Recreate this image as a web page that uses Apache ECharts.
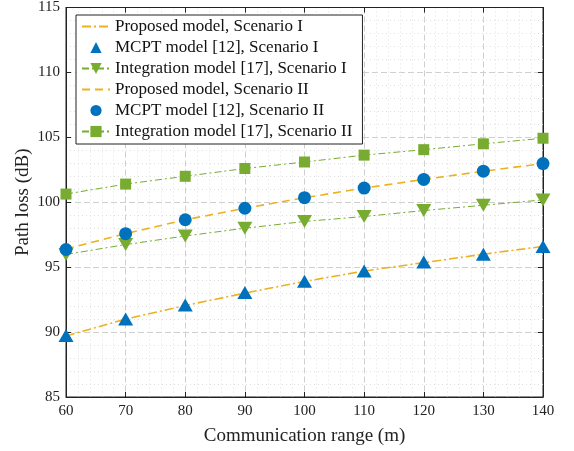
<!DOCTYPE html>
<html>
<head>
<meta charset="utf-8">
<script src="https://cdn.jsdelivr.net/npm/echarts@6/dist/echarts.min.js"></script>
<style>html,body{margin:0;padding:0;background:#fff}#c{width:574px;height:451px}</style>
</head>
<body>
<div id="c"></div>
<script>
const ranges = [60, 70, 80, 90, 100, 110, 120, 130, 140];
const proposedI = [89.7, 91.0, 92.05, 93.0, 93.9, 94.7, 95.35, 96.0, 96.6];
const mcptI = [89.74, 91.0, 92.08, 93.05, 93.92, 94.7, 95.39, 96.0, 96.6];
const integrationI = [95.98, 96.74, 97.4, 98.0, 98.52, 98.9, 99.36, 99.77, 100.18];
const proposedII = [96.4, 97.58, 98.65, 99.54, 100.35, 101.09, 101.76, 102.39, 102.98];
const mcptII = [96.36, 97.58, 98.65, 99.54, 100.35, 101.09, 101.76, 102.39, 102.98];
const integrationII = [100.63, 101.4, 102.0, 102.6, 103.1, 103.63, 104.05, 104.5, 104.93];
const names = [
  'Proposed model, Scenario I',
  'MCPT model [12], Scenario I',
  'Integration model [17], Scenario I',
  'Proposed model, Scenario II',
  'MCPT model [12], Scenario II',
  'Integration model [17], Scenario II'
];

const BLUE = '#0072BD', ORANGE = '#EDB120', GREEN = '#77AC30';
const FONT = 'Liberation Serif';
const pts = arr => ranges.map((x, i) => [x, arr[i]]);
const dashDot = [7, 3, 2, 3];

const chart = echarts.init(document.getElementById('c'), null, {renderer: 'canvas'});
chart.setOption({
  animation: false,
  backgroundColor: '#fff',
  grid: {left: 66, right: 31, top: 6, bottom: 52, show: true, borderColor: '#222', borderWidth: 1, backgroundColor: 'transparent'},
  legend: {
    orient: 'vertical', left: 76, top: 15,
    padding: [3, 10, 4, 5],
    itemWidth: 28, itemHeight: 14, itemGap: 4,
    borderColor: '#222', borderWidth: 1, backgroundColor: '#fff',
    textStyle: {fontFamily: FONT, fontSize: 17, color: '#111'},
    data: [
      {name: names[0], itemStyle: {opacity: 0}},
      {name: names[1]},
      {name: names[2]},
      {name: names[3], itemStyle: {opacity: 0}},
      {name: names[4]},
      {name: names[5]}
    ]
  },
  xAxis: [{
    type: 'value', min: 60, max: 140, interval: 10,
    name: 'Communication range (m)', nameLocation: 'middle', nameGap: 30, nameMoveOverlap: false,
    nameTextStyle: {fontFamily: FONT, fontSize: 19, color: '#222'},
    axisLine: {show: true, lineStyle: {color: '#222', width: 1}},
    axisTick: {show: true, inside: true, length: 5, lineStyle: {color: '#222'}},
    axisLabel: {fontFamily: FONT, fontSize: 15, color: '#222', margin: 7},
    splitLine: {show: true, lineStyle: {color: '#cfcfcf', type: [6, 3], width: 1}},
    minorTick: {show: false, splitNumber: 5},
    minorSplitLine: {show: true, lineStyle: {color: '#e0e0e0', type: [1, 3], width: 1}}
  }, {
    type: 'value', min: 60, max: 140, interval: 10, position: 'top',
    axisLine: {show: true, lineStyle: {color: '#222', width: 1}},
    axisTick: {show: true, inside: true, length: 5, lineStyle: {color: '#222'}},
    axisLabel: {show: false}, splitLine: {show: false}
  }],
  yAxis: [{
    type: 'value', min: 85, max: 115, interval: 5,
    name: 'Path loss (dB)', nameLocation: 'middle', nameGap: 33, nameMoveOverlap: false,
    nameTextStyle: {fontFamily: FONT, fontSize: 19, color: '#222'},
    axisLine: {show: true, lineStyle: {color: '#222', width: 1}},
    axisTick: {show: true, inside: true, length: 5, lineStyle: {color: '#222'}},
    axisLabel: {fontFamily: FONT, fontSize: 15, color: '#222', margin: 6},
    splitLine: {show: true, lineStyle: {color: '#cfcfcf', type: [6, 3], width: 1}},
    minorTick: {show: false, splitNumber: 5},
    minorSplitLine: {show: true, lineStyle: {color: '#e0e0e0', type: [1, 3], width: 1}}
  }, {
    type: 'value', min: 85, max: 115, interval: 5, position: 'right',
    axisLine: {show: true, lineStyle: {color: '#222', width: 1}},
    axisTick: {show: true, inside: true, length: 5, lineStyle: {color: '#222'}},
    axisLabel: {show: false}, splitLine: {show: false}
  }],
  series: [
    {name: names[0], type: 'line', data: pts(proposedI), symbol: 'none', z: 2,
     lineStyle: {color: ORANGE, width: 1.6, type: [9, 3, 2, 3]}, itemStyle: {color: ORANGE}},
    {name: names[3], type: 'line', data: pts(proposedII), symbol: 'none', z: 2,
     lineStyle: {color: ORANGE, width: 1.6, type: [8, 5]}, itemStyle: {color: ORANGE}},
    {name: names[2], type: 'line', data: pts(integrationI), symbol: 'triangle', symbolRotate: 180, symbolSize: [15, 13], z: 3,
     lineStyle: {color: GREEN, width: 1, type: dashDot}, itemStyle: {color: GREEN}},
    {name: names[5], type: 'line', data: pts(integrationII), symbol: 'rect', symbolSize: 11, z: 3,
     lineStyle: {color: GREEN, width: 1, type: dashDot}, itemStyle: {color: GREEN}},
    {name: names[1], type: 'line', data: pts(mcptI), symbol: 'triangle', symbolSize: [15, 13], z: 4,
     lineStyle: {width: 0, opacity: 0}, itemStyle: {color: BLUE, opacity: 1}},
    {name: names[4], type: 'line', data: pts(mcptII), symbol: 'circle', symbolSize: 13, z: 4,
     lineStyle: {width: 0, opacity: 0}, itemStyle: {color: BLUE, opacity: 1}}
  ]
});
</script>
</body>
</html>
